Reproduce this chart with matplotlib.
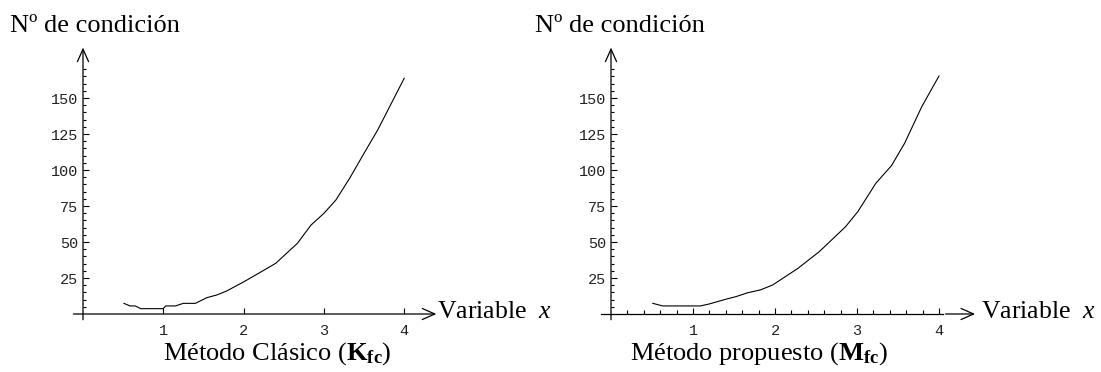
import matplotlib
matplotlib.use("Agg")
import matplotlib.pyplot as plt
import numpy as np

plt.rcParams['font.family'] = ['Liberation Serif', 'DejaVu Serif']
plt.rcParams['mathtext.fontset'] = 'custom'
plt.rcParams['mathtext.rm'] = 'Liberation Serif'
plt.rcParams['mathtext.it'] = 'Liberation Serif:italic'
plt.rcParams['mathtext.bf'] = 'Liberation Serif:bold'

# datos
clasico_x = [0.51, 0.585, 0.65, 0.72, 1.00, 1.03, 1.15, 1.25, 1.40, 1.54, 1.665, 1.79,
             2.02, 2.20, 2.40, 2.67, 2.84, 3.00, 3.15, 3.32, 3.50, 3.67, 3.84, 4.00]
clasico_y = [7.4, 5.6, 5.6, 3.7, 3.7, 5.6, 5.6, 7.4, 7.4, 11.3, 13.2, 16.0,
             22.9, 28.7, 35.2, 49.1, 61.8, 69.9, 79.2, 94.2, 111.6, 127.8, 146.3, 163.7]

propuesto_x = [0.51, 0.63, 1.09, 1.20, 1.41, 1.52, 1.67, 1.82, 1.97, 2.28, 2.54,
               2.86, 3.01, 3.23, 3.42, 3.58, 3.79, 4.00]
propuesto_y = [7.4, 5.6, 5.6, 7.0, 10.4, 12.0, 14.8, 16.7, 20.1, 31.7, 43.3,
               60.6, 71.1, 90.8, 103.0, 118.5, 144.0, 165.3]

xticks = [1, 2, 3, 4]
yticks = [25, 50, 75, 100, 125, 150]
titulo_y = "Nº de condición"
etiqueta_x = r"Variable  $x$"
titulos = [r"Método Clásico ($\mathbf{K}_{\mathbf{fc}}$)",
           r"Método propuesto ($\mathbf{M}_{\mathbf{fc}}$)"]

W, H = 1101, 372
XLIM = (-0.2, 4.6)
YLIM = (-8, 190)


def rect(x0, sx, y0, sy):
    # posición de los ejes a partir del origen en píxeles y la escala
    left = x0 + XLIM[0] * sx
    right = x0 + XLIM[1] * sx
    top = y0 - YLIM[1] * sy
    bottom = y0 - YLIM[0] * sy
    return [left / W, 1 - bottom / H, (right - left) / W, (bottom - top) / H]


fig = plt.figure(figsize=(W / 100, H / 100), dpi=100)

ax1 = fig.add_axes(rect(83, 80.3, 314, 1.44))
ax2 = fig.add_axes(rect(611, 82.0, 314, 1.44))

arrow = dict(arrowstyle='->,head_length=0.9,head_width=0.4', lw=0.9,
             color='black', shrinkA=0, shrinkB=0)

for ax in (ax1, ax2):
    ax.set_xlim(*XLIM)
    ax.set_ylim(*YLIM)
    for s in ('top', 'right'):
        ax.spines[s].set_visible(False)
    ax.spines['bottom'].set_position(('data', 0))
    ax.spines['left'].set_position(('data', 0))
    ax.spines['bottom'].set_visible(False)
    ax.spines['left'].set_visible(False)
    ax.set_xticks(xticks)
    ax.set_yticks(yticks)
    ax.set_yticks([v for v in range(5, 171, 5) if v % 25 != 0], minor=True)
    ax.tick_params(axis='both', which='major', direction='in', length=4, width=0.8)
    ax.tick_params(axis='both', which='minor', direction='in', length=2, width=0.8)
    ax.tick_params(axis='x', pad=7.5)
    ax.tick_params(axis='y', pad=3.5)
    for lab in ax.get_xticklabels() + ax.get_yticklabels():
        lab.set_fontfamily('Liberation Mono')
        lab.set_fontsize(11)
        lab.set_color('#222222')
    # eje vertical con flecha
    ax.annotate('', xy=(0, 185), xytext=(0, -4), arrowprops=arrow)

ax1.xaxis.set_ticks([], minor=True)
ax2.set_xticks([v / 5 for v in range(1, 21) if v % 5 != 0], minor=True)
ax2.tick_params(axis='x', which='minor', length=3)

# eje horizontal
ax1.annotate('', xy=(4.40, 0), xytext=(-0.12, 0), arrowprops=arrow)
ax2.plot([-0.12, 4.05], [0, 0], color='black', lw=0.9, clip_on=False)
ax2.annotate('', xy=(4.44, 0), xytext=(4.08, 0), arrowprops=arrow)

ax1.plot(clasico_x, clasico_y, color='black', lw=0.8)
ax2.plot(propuesto_x, propuesto_y, color='black', lw=0.8)

ax1.text(4.41, -3.0, etiqueta_x, fontsize=18.5, ha='left', va='baseline')
ax2.text(4.51, -3.0, etiqueta_x, fontsize=18.5, ha='left', va='baseline')

ax1.text(2.42, -31.5, titulos[0], fontsize=19, ha='center', va='baseline')
ax2.text(1.80, -31.5, titulos[1], fontsize=19, ha='center', va='baseline')

fig.text(10 / W, 1 - 32 / H, titulo_y, fontsize=19, ha='left', va='baseline')
fig.text(535 / W, 1 - 32 / H, titulo_y, fontsize=19, ha='left', va='baseline')

fig.savefig('out.png', dpi=100)
